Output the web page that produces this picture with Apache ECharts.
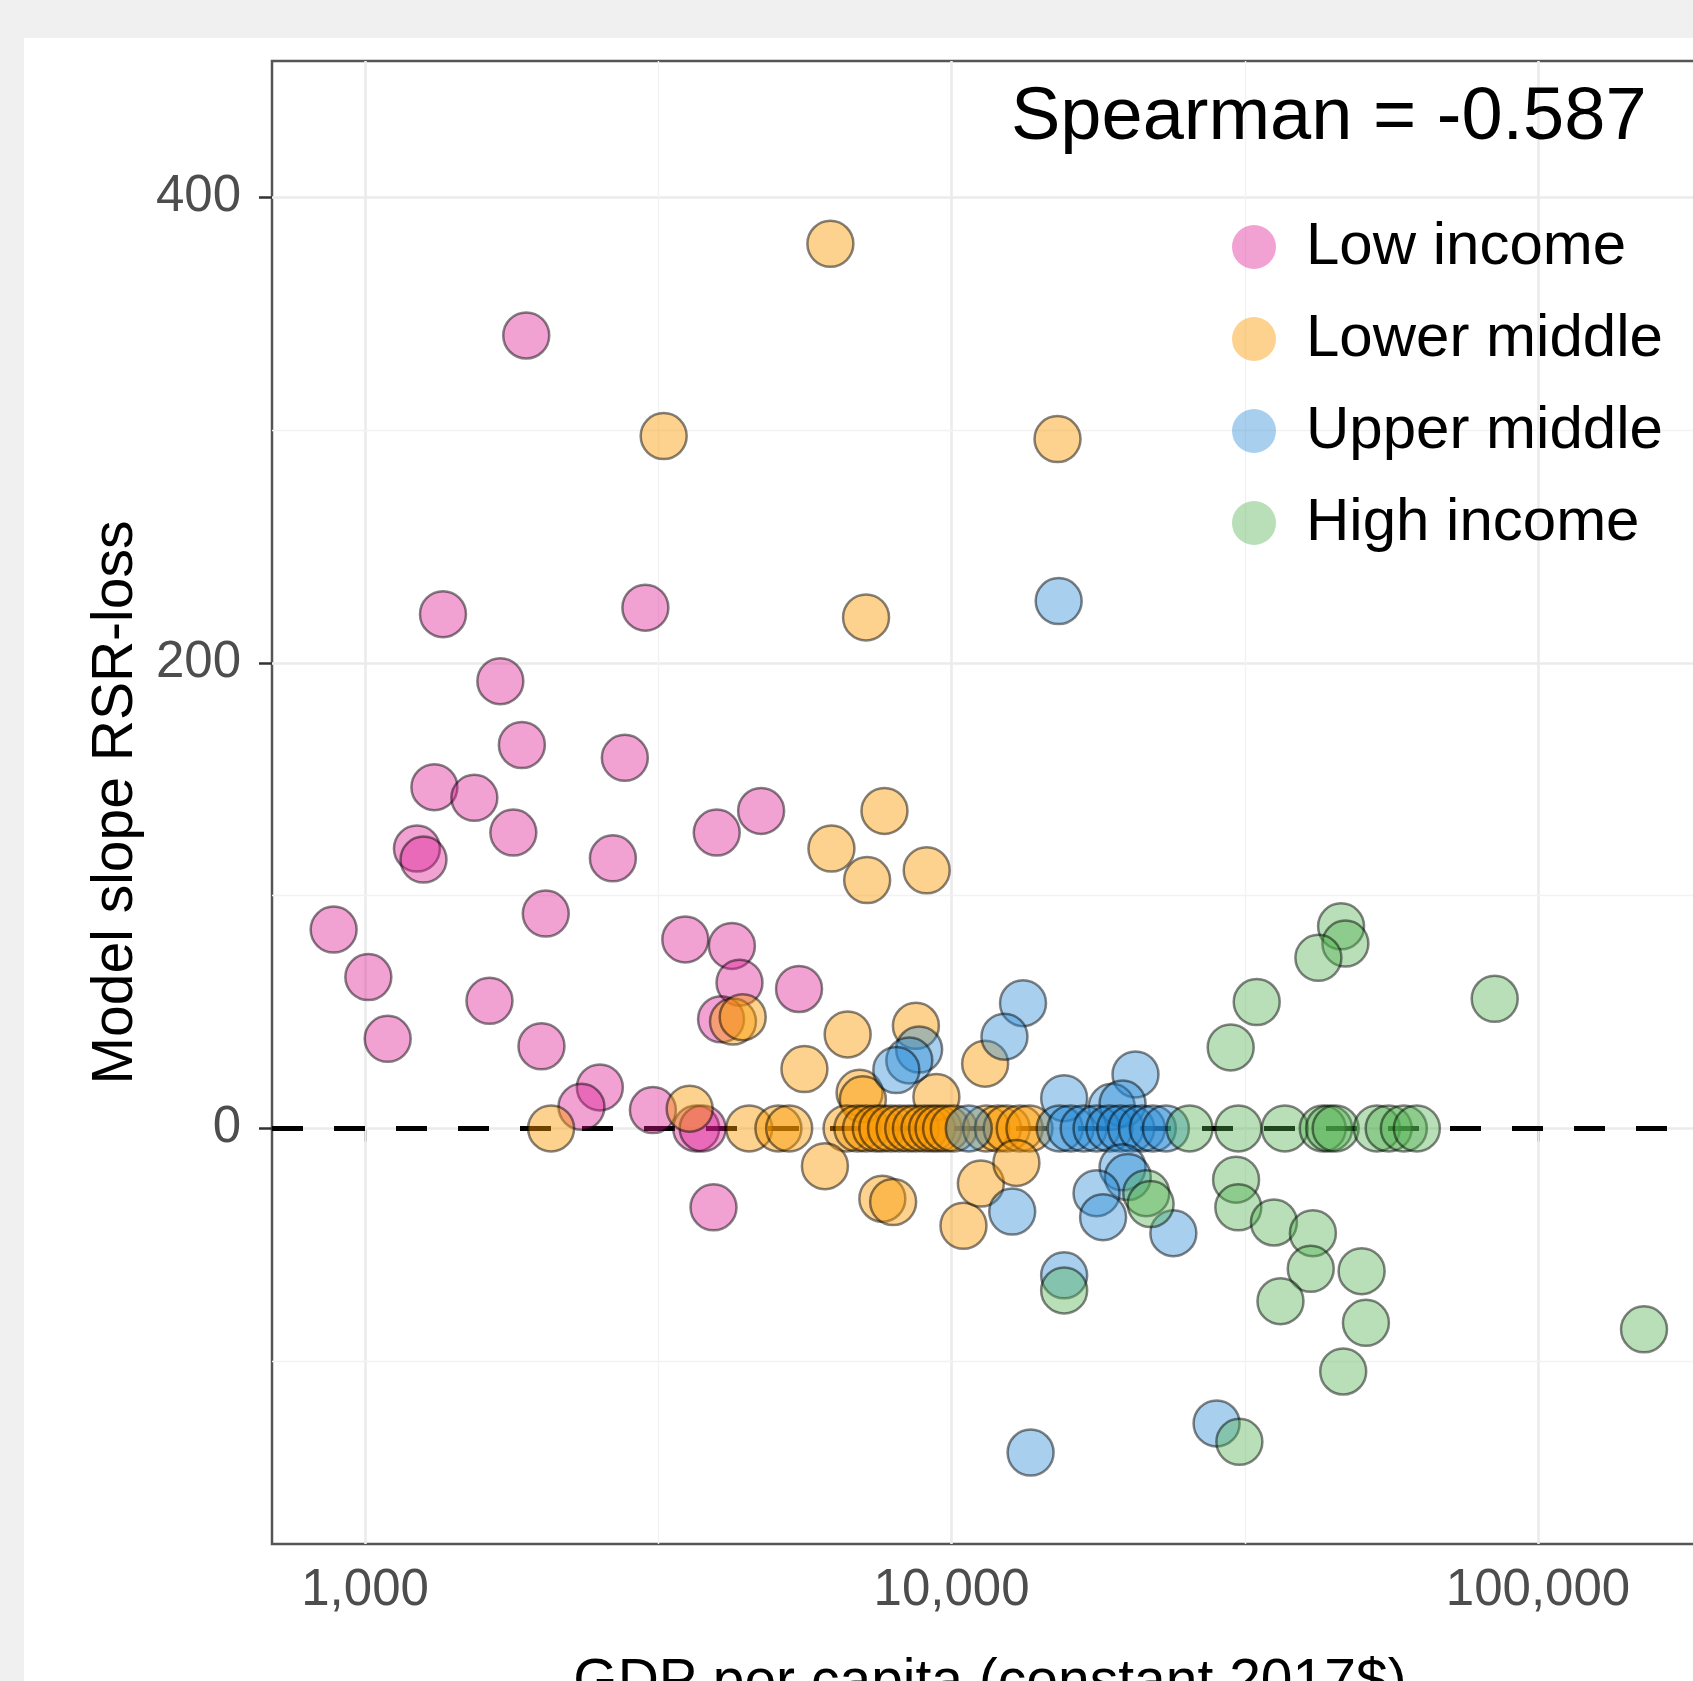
<!DOCTYPE html>
<html>
<head>
<meta charset="utf-8">
<script src="https://cdn.jsdelivr.net/npm/echarts@6/dist/echarts.min.js"></script>
<style>
  html, body { margin: 0; padding: 0; background: #f0f0f0; overflow: hidden; width: 1693px; height: 1681px; }
  #chart { position: absolute; left: 24px; top: 38px; width: 1669px; height: 1643px; background: #fff; }
</style>
</head>
<body>
<div id="chart"></div>
<script>
// [GDP per capita, model slope]
var lowIncome = [
  [1883, 340.6], [1358, 220.9], [3006, 223.7], [1701, 192.1], [1851, 164.7], [2773, 159.2],
  [1313, 146.6], [1536, 142.0], [1790, 127.1], [4735, 136.4], [3978, 127.1], [1226, 120.2],
  [1258, 115.5], [2646, 116.0], [2033, 92.3], [884, 85.4], [1013, 65.0], [1093, 38.5],
  [1630, 54.8], [1999, 35.3], [3516, 81.2], [4222, 78.4], [4350, 62.6], [5495, 59.9],
  [4046, 46.9], [2514, 17.6], [2339, 9.3], [3096, 7.9], [3670, 0], [3764, 0], [3928, -33.9]
];
var lowerMiddle = [
  [6215, 380.0], [3230, 297.4], [15160, 296.1], [7149, 219.5], [7685, 136.4], [6241, 120.2],
  [7180, 106.7], [9071, 110.9], [4240, 45.9], [4405, 47.8], [6651, 40.4], [8694, 44.1],
  [5613, 25.5], [11410, 27.8], [6970, 15.3], [7060, 12.5], [9423, 13.5], [2076, 0], [3577, 8.5],
  [4519, 0], [5068, 0], [5287, 0], [6622, 0], [6910, 0], [7149, 0], [7428, 0], [7621, 0],
  [7884, 0], [8156, 0], [8437, 0], [8694, 0], [8993, 0], [9265, 0], [9504, 0], [9790, 0],
  [10090, 0], [11460, 0], [12000, 0], [12420, 0], [13070, 0], [13580, 0],
  [6083, -16.2], [7621, -30.2], [7951, -31.6], [10480, -41.8], [11220, -23.7], [12900, -14.8]
];
var upperMiddle = [
  [15230, 226.5], [13240, 53.8], [12310, 39.4], [8805, 33.9], [8472, 29.2], [8051, 25.1],
  [15560, 13.0], [20590, 23.2], [18760, 9.3], [19570, 10.7], [10700, 0],
  [15290, 0], [15960, 0], [16800, 0], [17670, 0], [18590, 0], [19400, 0], [20250, 0],
  [21120, 0], [22040, 0], [23200, 0],
  [19570, -16.7], [19980, -20.9], [17670, -27.8], [18130, -38.1], [23890, -45.0],
  [12690, -35.7], [15560, -63.1], [13640, -139.2], [28310, -126.7]
];
var highIncome = [
  [46150, 86.8], [46940, 79.4], [42220, 73.3], [84360, 55.7], [33140, 54.3], [29920, 34.8],
  [25460, 0], [30830, 0], [37010, 0], [42950, 0], [44040, 0], [45180, 0], [53120, 0],
  [55640, 0], [59050, 0], [62150, 0],
  [21480, -27.8], [21850, -32.5], [30560, -22.0], [30830, -33.9], [35460, -40.4], [41320, -45.0],
  [40970, -60.3], [50030, -61.3], [36380, -74.2], [50880, -83.5], [46540, -104.4],
  [30960, -134.6], [151600, -86.3], [15560, -69.6]
];

var groupNames = ['Low income', 'Lower middle', 'Upper middle', 'High income'];
var groupColors = ['rgba(221,23,145,0.5)', 'rgba(250,152,0,0.55)', 'rgba(37,137,213,0.5)', 'rgba(77,175,74,0.5)'];
var xTicks = [1000, 10000, 100000];
var yTicks = [0, 200, 400];
var xMinor = [3162.28, 31622.8];
var yMinor = [-100, 100, 300];
var spearmanText = 'Spearman = -0.587';

var FONT = 'Liberation Sans, Arial, sans-serif';
var chart = echarts.init(document.getElementById('chart'), null, { width: 1669, height: 1643 });

// gridlines as markLines so they sit only at the ggplot break positions
var gridLines = [];
xTicks.forEach(function (v) { gridLines.push({ xAxis: v, lineStyle: { color: '#ebebeb', width: 2.6, type: 'solid' } }); });
yTicks.forEach(function (v) { gridLines.push({ yAxis: v, lineStyle: { color: '#ebebeb', width: 2.6, type: 'solid' } }); });
xMinor.forEach(function (v) { gridLines.push({ xAxis: v, lineStyle: { color: '#f2f2f2', width: 1.4, type: 'solid' } }); });
yMinor.forEach(function (v) { gridLines.push({ yAxis: v, lineStyle: { color: '#f2f2f2', width: 1.4, type: 'solid' } }); });

function makeSeries(name, data, color, idx) {
  var s = {
    name: name,
    type: 'scatter',
    data: data,
    symbol: 'circle',
    symbolSize: 46,
    z: 3,
    itemStyle: { color: color, borderColor: 'rgba(0,0,0,0.6)', borderWidth: 2.5 },
    emphasis: { disabled: true }
  };
  if (idx === 0) {
    s.markLine = { silent: true, z: 1, symbol: ['none', 'none'], label: { show: false }, animation: false, data: gridLines };
  }
  if (idx === 1) {
    s.markLine = {
      silent: true, z: 2, symbol: ['none', 'none'], label: { show: false }, animation: false,
      data: [{ yAxis: 0, lineStyle: { color: '#000', width: 5, type: [31, 31] } }]
    };
  }
  return s;
}

var allData = [lowIncome, lowerMiddle, upperMiddle, highIncome];
var series = allData.map(function (d, i) { return makeSeries(groupNames[i], d, groupColors[i], i); });

chart.setOption({
  animation: false,
  textStyle: { fontFamily: FONT },
  title: {
    text: spearmanText,
    left: 987,
    top: 44,
    padding: 0,
    textStyle: { fontSize: 74, fontWeight: 'normal', color: '#000', fontFamily: FONT }
  },
  legend: {
    orient: 'vertical',
    left: 1208,
    top: 179,
    padding: 0,
    itemWidth: 94,
    itemHeight: 44,
    itemGap: 32,
    icon: 'circle',
    data: groupNames,
    itemStyle: { borderWidth: 0 },
    textStyle: { fontSize: 60, color: '#000', fontFamily: FONT }
  },
  grid: {
    left: 248, top: 23, right: -15, bottom: 137,
    outerBoundsMode: 'none',
    containLabel: false,
    show: true, backgroundColor: '#fff', borderColor: '#555', borderWidth: 2.5
  },
  xAxis: {
    type: 'log',
    logBase: 10,
    min: 694,
    max: 194900,
    name: 'GDP per capita (constant 2017$)',
    nameLocation: 'middle',
    nameGap: 111,
    nameTextStyle: { fontSize: 57, color: '#000', fontFamily: FONT },
    axisLine: { show: false },
    splitLine: { show: false },
    minorSplitLine: { show: false },
    axisTick: { show: true, length: 13, lineStyle: { color: '#333', width: 2.5 }, customValues: xTicks },
    axisLabel: {
      fontSize: 51, color: '#4d4d4d', margin: 21, fontFamily: FONT, customValues: xTicks,
      formatter: function (v) { return Number(v).toLocaleString('en-US'); }
    }
  },
  yAxis: {
    type: 'value',
    min: -178.5,
    max: 458.5,
    name: 'Model slope RSR-loss',
    nameLocation: 'middle',
    nameGap: 126,
    nameRotate: 90,
    nameTextStyle: { fontSize: 57, color: '#000', fontFamily: FONT },
    axisLine: { show: false },
    splitLine: { show: false },
    axisTick: { show: true, length: 13, lineStyle: { color: '#333', width: 2.5 }, customValues: yTicks },
    axisLabel: { fontSize: 51, color: '#4d4d4d', margin: 31, fontFamily: FONT, customValues: yTicks }
  },
  series: series
});
</script>
</body>
</html>
